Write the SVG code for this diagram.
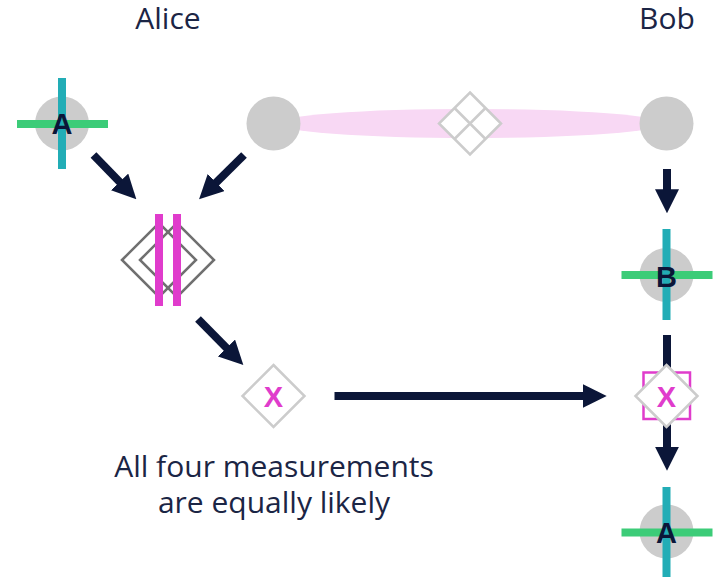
<svg xmlns="http://www.w3.org/2000/svg" width="717" height="577" viewBox="0 0 717 577">
<style>
.lbl{font-family:"Open Sans","Liberation Sans",sans-serif;font-size:30px;fill:#1b2545;text-anchor:middle}
.let{font-family:"Liberation Sans",Arial,sans-serif;font-weight:bold;font-size:29px;fill:#0b1638;text-anchor:middle}
.xl{font-family:"Liberation Sans",Arial,sans-serif;font-weight:bold;font-size:29px;fill:#e03ccc;text-anchor:middle}
.ball{fill:#cccccc}
.green{fill:#3ccc78}
.teal{fill:#22adb6}
.dia{fill:#ffffff;stroke:#cccccc;stroke-width:2.5}
.arr{stroke:#0b1638;stroke-width:8;fill:none;marker-end:url(#ah)}
</style>
<defs>
<marker id="ah" markerUnits="userSpaceOnUse" markerWidth="24" markerHeight="24" viewBox="0 0 24 24" refX="4" refY="12" orient="auto">
<path d="M0,0 L24,12 L0,24 z" fill="#0b1638"/>
</marker>
</defs>
<rect width="717" height="577" fill="#ffffff"/>
<text class="lbl" x="168" y="29">Alice</text>
<text class="lbl" x="667" y="29">Bob</text>
<g id="entangled">
<ellipse cx="470" cy="123.5" rx="194" ry="14.5" fill="#f8d8f4"/>
<g id="pair-diamond">
<path class="dia" d="M470,92.5 L501,123.5 L470,154.5 L439,123.5 z"/>
<path d="M454.5,108 L485.5,139 M485.5,108 L454.5,139" stroke="#cccccc" stroke-width="2.5" fill="none"/>
</g>
</g>
<g id="alice-A">
<circle class="ball" cx="62" cy="123.5" r="27"/>
<rect class="green" x="17" y="120" width="91" height="8"/>
<rect class="teal" x="58" y="78" width="8" height="91"/>
<text class="let" x="62" y="134">A</text>
</g>
<g id="alice-particle">
<circle class="ball" cx="273.5" cy="123.5" r="27"/>
</g>
<g id="bob-particle">
<circle class="ball" cx="666.5" cy="123.5" r="27"/>
</g>
<g id="bell-measure">
<path d="M122,260 L159,223 L196,260 L159,297 z" fill="none" stroke="#707070" stroke-width="2.5"/>
<path d="M140,260 L177,223 L214,260 L177,297 z" fill="none" stroke="#707070" stroke-width="2.5"/>
<rect x="155" y="214" width="8" height="92" fill="#e03ccc"/>
<rect x="173" y="214" width="8" height="92" fill="#e03ccc"/>
</g>
<g id="connectors">
<line class="arr" x1="93.5" y1="155" x2="122.4" y2="184.8"/>
<line class="arr" x1="244" y1="155" x2="213.3" y2="185.3"/>
<line class="arr" x1="198" y1="319" x2="229.3" y2="350.8"/>
<line class="arr" x1="334.5" y1="396" x2="586.7" y2="396"/>
<line class="arr" x1="667" y1="169" x2="667" y2="193.3"/>
<line class="arr" x1="667" y1="335" x2="667" y2="450.7"/>
</g>
<g id="alice-result">
<path class="dia" d="M273.5,365 L304.5,396 L273.5,427 L242.5,396 z"/>
<text class="xl" x="273.5" y="406.5">X</text>
</g>
<g id="bob-B">
<circle class="ball" cx="666.5" cy="275" r="27"/>
<rect class="green" x="621.5" y="271" width="91" height="8"/>
<rect class="teal" x="662.5" y="229" width="8" height="91"/>
<text class="let" x="666.5" y="286.5">B</text>
</g>
<g id="bob-correction">
<rect x="643.5" y="372.5" width="46.5" height="46.5" fill="none" stroke="#e03ccc" stroke-width="2.5"/>
<path class="dia" d="M666.5,365 L697.5,396 L666.5,427 L635.5,396 z"/>
<text class="xl" x="666.5" y="406.5">X</text>
</g>
<g id="bob-A">
<circle class="ball" cx="666.5" cy="531.5" r="27"/>
<rect class="green" x="621.5" y="528.5" width="91" height="8"/>
<rect class="teal" x="662.5" y="487" width="8" height="90"/>
<text class="let" x="666.5" y="542.5">A</text>
</g>
<text class="lbl" x="274" y="477">All four measurements</text>
<text class="lbl" x="274" y="513">are equally likely</text>
</svg>
